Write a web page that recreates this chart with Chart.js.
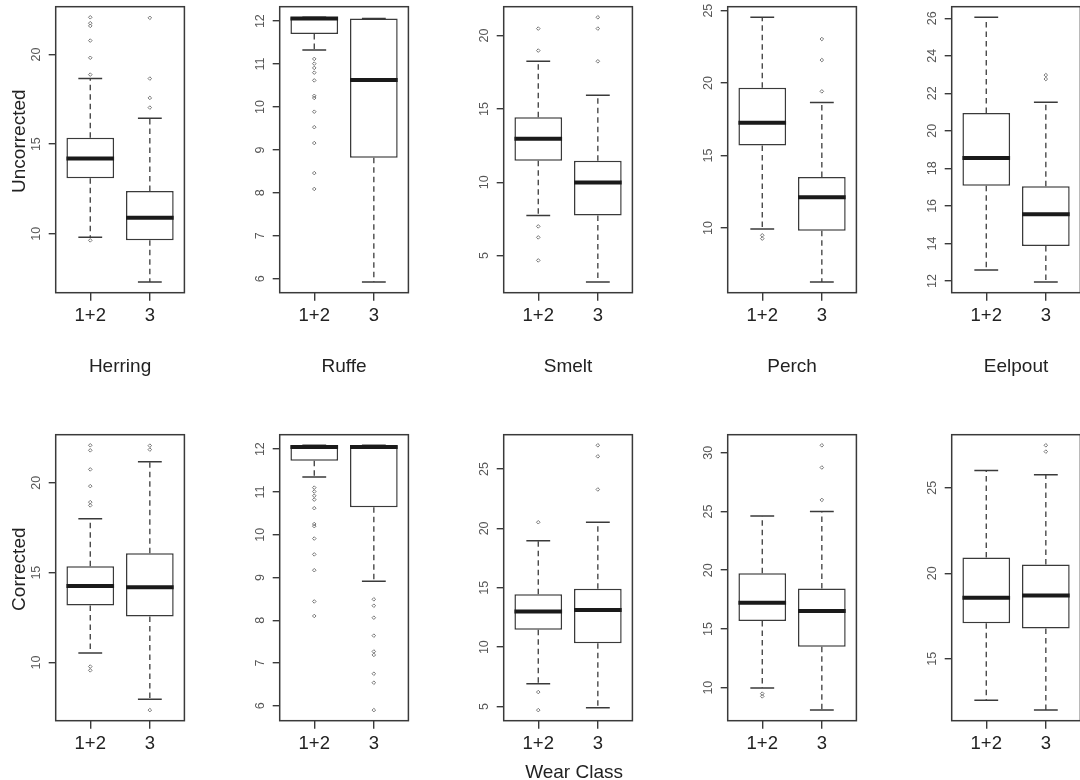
<!DOCTYPE html>
<html>
<head>
<meta charset="utf-8">
<script src="https://cdn.jsdelivr.net/npm/chart.js@4.4.1/dist/chart.umd.min.js"></script>
<style>
  html, body { margin: 0; padding: 0; background: #fff; }
  body { width: 1080px; height: 780px; overflow: hidden; position: relative; }
  canvas { position: absolute; }
</style>
</head>
<body>
<script>
// categories
const species = ['Herring', 'Ruffe', 'Smelt', 'Perch', 'Eelpout'];
const wearClasses = ['1+2', '3'];
const rowLabels = ['Uncorrected', 'Corrected'];

// box stats per species, per wear class: [lower whisker, Q1, median, Q3, upper whisker]
const uncorrectedStats = [
    [[9.8, 13.1, 14.2, 15.35, 18.66], [7.3, 9.63, 10.89, 12.38, 16.45]],
    [[11.33, 11.7, 12.06, 12.09, 12.09], [5.92, 8.82, 10.63, 12.06, 12.06]],
    [[7.74, 11.46, 12.96, 14.44, 18.25], [3.19, 7.74, 9.99, 11.46, 15.93]],
    [[9.93, 15.7, 17.26, 19.68, 24.54], [6.27, 9.82, 12.13, 13.53, 18.67]],
    [[12.58, 17.07, 18.55, 20.95, 26.05], [11.94, 13.87, 15.56, 17.05, 21.52]]
];
const uncorrectedOutliers = [
    [[22.08, 21.75, 21.6, 20.78, 19.82, 18.88, 9.63], [22.05, 18.66, 17.58, 17.04]],
    [[11.12, 11.01, 10.91, 10.8, 10.62, 10.26, 10.21, 9.89, 9.53, 9.16, 8.46, 8.09], []],
    [[20.48, 18.98, 6.99, 6.24, 4.67], [21.25, 20.48, 18.25]],
    [[9.5, 9.27], [23.04, 21.59, 19.43]],
    [[], [22.97, 22.76]]
];
const correctedStats = [
    [[10.54, 13.18, 14.26, 15.35, 17.99], [7.96, 12.57, 14.19, 16.08, 21.17]],
    [[11.35, 11.73, 12.05, 12.09, 12.09], [8.91, 10.64, 12.05, 12.09, 12.09]],
    [[6.92, 11.46, 13.01, 14.45, 18.97], [4.89, 10.34, 13.13, 14.93, 20.52]],
    [[9.97, 15.68, 17.22, 19.73, 24.61], [8.09, 13.48, 16.53, 18.44, 25.0]],
    [[12.57, 17.08, 18.57, 20.92, 26.02], [12.0, 16.78, 18.71, 20.51, 25.76]]
];
const correctedOutliers = [
    [[22.08, 21.8, 20.74, 19.81, 18.92, 18.74, 9.78, 9.57], [22.06, 21.84, 7.36]],
    [[11.1, 11.01, 10.91, 10.82, 10.62, 10.25, 10.2, 9.91, 9.54, 9.17, 8.44, 8.1],
     [8.49, 8.34, 8.06, 7.64, 7.27, 7.19, 6.75, 6.54, 5.9]],
    [[20.52, 6.22, 4.7], [27.0, 26.07, 23.28]],
    [[9.49, 9.26], [30.63, 28.74, 25.98]],
    [[], [27.49, 27.12]]
];

// y tick labels
const uncorrectedTicks = [
    [10, 15, 20], [6, 7, 8, 9, 10, 11, 12], [5, 10, 15, 20], [10, 15, 20, 25],
    [12, 14, 16, 18, 20, 22, 24, 26]
];
const correctedTicks = [
    [10, 15, 20], [6, 7, 8, 9, 10, 11, 12], [5, 10, 15, 20, 25], [10, 15, 20, 25, 30],
    [15, 20, 25]
];
const bottomTitles = ['', '', 'Wear Class', '', ''];

const FONT = '"Liberation Sans", Arial, Helvetica, sans-serif';
const INK = '#3a3a3a';
Chart.defaults.font.family = FONT;

// frame, rotated y tick labels and titles, R style
const rFrame = {
    id: 'rFrame',
    afterDraw(chart, args, opts) {
        const ctx = chart.ctx;
        const a = chart.chartArea;
        const y = chart.scales.y;
        ctx.save();
        ctx.strokeStyle = INK;
        ctx.lineWidth = 1.5;
        ctx.strokeRect(a.left, a.top, a.right - a.left, a.bottom - a.top);

        ctx.fillStyle = '#555';
        ctx.font = '12.5px ' + FONT;
        ctx.textAlign = 'center';
        ctx.textBaseline = 'alphabetic';
        y.ticks.forEach(t => {
            ctx.save();
            ctx.translate(a.left - 15.7, y.getPixelForValue(t.value));
            ctx.rotate(-Math.PI / 2);
            ctx.fillText(String(t.value), 0, 0);
            ctx.restore();
        });

        ctx.fillStyle = '#222';
        ctx.font = '19px ' + FONT;
        if (opts.ylab) {
            ctx.save();
            ctx.translate(24.5, a.top + 134.5);
            ctx.rotate(-Math.PI / 2);
            ctx.fillText(opts.ylab, 0, 0);
            ctx.restore();
        }
        if (opts.title) {
            ctx.fillText(opts.title, (a.left + a.right) / 2 + (opts.titleDx || 0), a.bottom + opts.titleDy);
        }
        ctx.restore();
    }
};

function makePanel(row, col, stats, outs, ticks, title, titleDy, titleDx) {
    const canvas = document.createElement('canvas');
    canvas.width = 224;
    canvas.height = 390;
    canvas.style.left = (col * 224) + 'px';
    canvas.style.top = (row === 0 ? 0 : 428) + 'px';
    document.body.appendChild(canvas);

    const boxes = [], meds = [], caps = [], whisk = [], pts = [];
    stats.forEach((s, i) => {
        const x = i + 1;
        const [lo, q1, med, q3, hi] = s;
        boxes.push({x: x, y: [q1, q3]});
        meds.push({x: x - 0.4, y: med}, {x: x + 0.4, y: med}, {x: x, y: null});
        caps.push({x: x - 0.2, y: hi}, {x: x + 0.2, y: hi}, {x: x, y: null},
                  {x: x - 0.2, y: lo}, {x: x + 0.2, y: lo}, {x: x, y: null});
        whisk.push({x: x, y: q3}, {x: x, y: hi}, {x: x, y: null},
                   {x: x, y: q1}, {x: x, y: lo}, {x: x, y: null});
        outs[i].forEach(v => pts.push({x: x, y: v}));
    });

    // axis limits like R: data range plus 4% each side
    const all = stats.flat().concat(outs.flat());
    const lo = Math.min(...all), hi = Math.max(...all);
    const pad = (hi - lo) * 0.04;

    new Chart(canvas.getContext('2d'), {
        type: 'bar',
        data: {
            datasets: [
                {
                    type: 'line', data: meds, borderColor: '#1a1a1a', borderWidth: 4,
                    borderCapStyle: 'butt', pointRadius: 0, order: 0
                },
                {
                    type: 'scatter', data: pts, pointStyle: 'rectRot', pointRadius: 1.8,
                    borderColor: '#777', borderWidth: 1, backgroundColor: 'rgba(0,0,0,0)', order: 0
                },
                {
                    type: 'line', data: caps, borderColor: INK, borderWidth: 1.5,
                    pointRadius: 0, order: 1
                },
                {
                    type: 'line', data: whisk, borderColor: INK, borderWidth: 1.3,
                    borderDash: [5.5, 4], pointRadius: 0, order: 2
                },
                {
                    type: 'bar', data: boxes, backgroundColor: '#fff', borderColor: INK,
                    borderWidth: 1.5, borderSkipped: false, barPercentage: 0.8,
                    categoryPercentage: 1, order: 3
                }
            ]
        },
        options: {
            responsive: false,
            animation: false,
            layout: {padding: {left: 0, top: 6.7, right: 39.6, bottom: 0}},
            plugins: {
                legend: {display: false},
                tooltip: {enabled: false},
                rFrame: {
                    ylab: col === 0 ? rowLabels[row] : '',
                    title: title, titleDy: titleDy, titleDx: titleDx
                }
            },
            scales: {
                x: {
                    type: 'linear', min: 0.42, max: 2.58, offset: false, bounds: 'data',
                    afterBuildTicks: s => { s.ticks = wearClasses.map((c, i) => ({value: i + 1})); },
                    afterFit: s => { s.height = 97.3; },
                    ticks: {
                        callback: v => wearClasses[v - 1],
                        color: '#222', font: {size: 18.5}, padding: 4,
                        maxRotation: 0, autoSkip: false
                    },
                    grid: {
                        drawOnChartArea: false, drawTicks: true, tickLength: 8,
                        color: INK, lineWidth: 1.4, offset: false
                    },
                    border: {display: false}
                },
                y: {
                    type: 'linear', min: lo - pad, max: hi + pad, bounds: 'data', beginAtZero: false,
                    afterBuildTicks: s => { s.ticks = ticks.map(v => ({value: v})); },
                    afterFit: s => { s.width = 55.7; },
                    ticks: {display: false},
                    grid: {
                        drawOnChartArea: false, drawTicks: true, tickLength: 7,
                        color: INK, lineWidth: 1.4
                    },
                    border: {display: false}
                }
            }
        },
        plugins: [rFrame]
    });
}

species.forEach((name, c) => {
    makePanel(0, c, uncorrectedStats[c], uncorrectedOutliers[c], uncorrectedTicks[c], name, 79, 0);
    makePanel(1, c, correctedStats[c], correctedOutliers[c], correctedTicks[c], bottomTitles[c], 57, 6);
});
</script>
</body>
</html>
